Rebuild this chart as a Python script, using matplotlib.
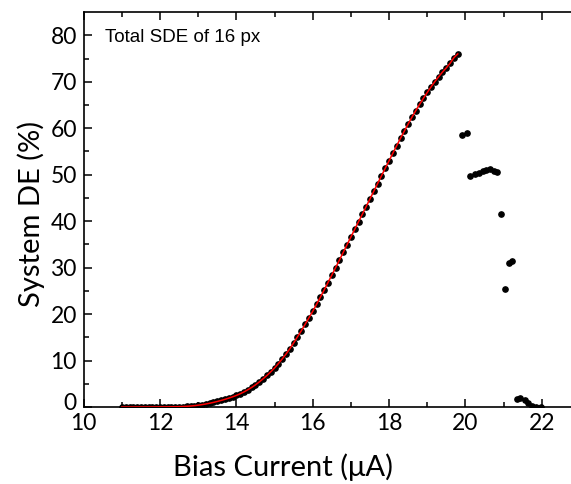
import numpy as np
import matplotlib.pyplot as plt
import matplotlib.transforms as mtransforms

# dados: corrente de polarizacao (uA) e SDE (%)
corrente = np.round(np.arange(11.0, 19.81, 0.1), 1)
sde = [0.00, 0.00, 0.00, 0.00, 0.01, 0.01, 0.01, 0.01, 0.02, 0.02,
       0.03, 0.03, 0.04, 0.05, 0.06, 0.08, 0.11, 0.16, 0.22, 0.30,
       0.40, 0.52, 0.66, 0.82, 1.00, 1.20, 1.42, 1.66, 1.92, 2.20,
       2.50, 2.86, 3.26, 3.72, 4.22, 4.78, 5.40, 6.08, 6.80, 7.58,
       8.40, 9.35, 10.35, 11.40, 12.55, 13.80, 15.10, 16.40, 17.80, 19.20,
       20.60, 22.10, 23.65, 25.20, 26.80, 28.40, 30.00, 31.65, 33.30, 34.95,
       36.60, 38.25, 39.90, 41.50, 43.15, 44.80, 46.45, 48.10, 49.75, 51.40,
       53.00, 54.65, 56.25, 57.85, 59.40, 60.90, 62.40, 63.80, 65.15, 66.45,
       67.70, 68.90, 70.05, 71.10, 72.10, 73.00, 74.00, 75.20, 76.00]

# pontos depois do latching
corrente_lat = [19.92, 20.04, 20.13, 20.24, 20.35, 20.45, 20.55, 20.64, 20.74, 20.84,
                20.93, 21.03, 21.13, 21.23, 21.34, 21.44, 21.55, 21.65, 21.75, 21.86, 21.97]
sde_lat = [58.5, 59.0, 49.7, 50.1, 50.4, 50.7, 51.0, 51.3, 50.8, 50.6,
           41.6, 25.4, 31.0, 31.4, 1.65, 2.0, 1.5, 0.9, 0.3, 0.1, 0.1]

fig = plt.figure(figsize=(5.71, 4.84), dpi=100)
ax = fig.add_axes([0.1466, 0.159, 0.869, 0.816])

ax.plot(corrente, sde, 'o', color='black', markersize=3.8, zorder=2)
ax.plot(corrente_lat, sde_lat, 'o', color='black', markersize=3.8, zorder=2)
ax.plot(corrente, sde, '-', color='red', linewidth=1.1, zorder=3)

ax.set_xlim(10, 23)
ax.set_ylim(0, 85)
ax.set_xticks([10, 12, 14, 16, 18, 20, 22])
ax.set_xticks(np.arange(11, 23, 2), minor=True)
ax.set_yticks(np.arange(0, 81, 10))
ax.set_yticks(np.arange(5, 85, 10), minor=True)
ax.tick_params(which='both', direction='in', top=True, right=True, width=1.1,
               labelsize=16.5)
ax.tick_params(axis='x', pad=4.5)
ax.tick_params(axis='y', pad=5)
ax.tick_params(which='major', length=6)
ax.tick_params(which='minor', length=3.5)
for lab in ax.get_xticklabels() + ax.get_yticklabels():
    lab.set_family('Lato')
for s in ax.spines.values():
    s.set_linewidth(1.2)

# sobe um pouco o rotulo "0" do eixo y para nao encostar no "10"
desloc = mtransforms.ScaledTranslation(0, 4/72, fig.dpi_scale_trans)
rot0 = ax.yaxis.get_major_ticks()[0].label1
rot0.set_transform(rot0.get_transform() + desloc)

ax.set_xlabel('Bias Current (\u03bcA)', fontsize=21, family='Lato')
ax.xaxis.set_label_coords(0.402, -0.118)
ax.set_ylabel('System DE (%)', fontsize=21, family='Lato')
ax.yaxis.set_label_coords(-0.079, 0.49)

ax.text(10.55, 79.5, 'Total SDE of 16 px', fontsize=13.5, family='Liberation Sans',
        va='center', ha='left')

plt.savefig('out.png', dpi=100)
